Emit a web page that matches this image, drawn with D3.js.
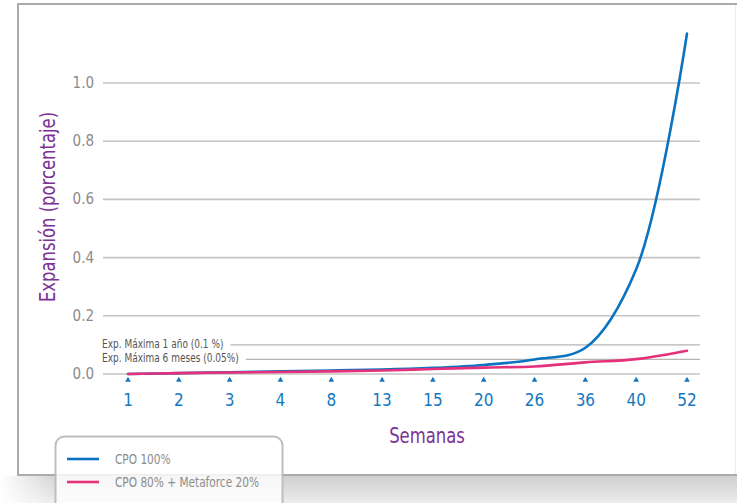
<!DOCTYPE html>
<html lang="es">
<head>
<meta charset="utf-8">
<style>
    body { margin: 0; background: #fff; }
    svg { display: block; }
    .cond { font-family: "DejaVu Sans Condensed", "Liberation Sans Narrow", Roboto, sans-serif; font-stretch: condensed; }
    .ytick { fill: #8a8a8a; font-size: 15px; }
    .xtick { fill: #1477bd; font-size: 17px; }
    .title { fill: #7b3294; font-size: 21px; }
    .ref { fill: #555; font-size: 11.5px; }
    .leg { fill: #8c8c8c; font-size: 13.5px; }
</style>
<script src="https://d3js.org/d3.v7.min.js"></script>
</head>
<body>
<svg width="737" height="503"></svg>
<script>
    // data
    var semanas = ["1", "2", "3", "4", "8", "13", "15", "20", "26", "36", "40", "52"];
    var cpo100 = [0.0, 0.003, 0.006, 0.009, 0.012, 0.015, 0.021, 0.031, 0.05, 0.09, 0.36, 1.17];
    var cpoMeta = [0.0, 0.003, 0.005, 0.007, 0.009, 0.012, 0.017, 0.022, 0.026, 0.04, 0.051, 0.08];
    var yTicks = [0, 0.2, 0.4, 0.6, 0.8, 1.0];
    var refValues = [0.1, 0.05];
    var refLabels = ["Exp. Máxima 1 año (0.1 %)", "Exp. Máxima 6 meses (0.05%)"];
    var seriesNames = ["CPO 100%", "CPO 80% + Metaforce 20%"];
    var colors = ["#0a73c1", "#e6307b"];

    var squeeze = 0.87; // the original font is condensed

    var svg = d3.select("svg");

    // text squeezed horizontally, anchored at (px, py)
    function condText(parent, px, py, cls, str, extra) {
        return parent.append("g")
            .attr("transform", "translate(" + px + "," + py + ")" + (extra || "") + " scale(" + squeeze + ",1)")
            .append("text")
            .attr("class", cls + " cond")
            .text(str);
    }

    // background: grey band below the card
    var defs = svg.append("defs");
    var grad = defs.append("linearGradient").attr("id", "bg").attr("x1", 0).attr("y1", 0).attr("x2", 0).attr("y2", 1);
    grad.append("stop").attr("offset", "0%").attr("stop-color", "#cfcfcf");
    grad.append("stop").attr("offset", "100%").attr("stop-color", "#ececec");
    var fade = defs.append("linearGradient").attr("id", "fade");
    fade.append("stop").attr("offset", "0%").attr("stop-color", "#fff").attr("stop-opacity", 1);
    fade.append("stop").attr("offset", "100%").attr("stop-color", "#fff").attr("stop-opacity", 0);

    svg.append("rect").attr("x", 0).attr("y", 476).attr("width", 737).attr("height", 27).attr("fill", "url(#bg)");
    svg.append("rect").attr("x", 0).attr("y", 476).attr("width", 60).attr("height", 27).attr("fill", "url(#fade)");

    // card
    svg.append("rect")
        .attr("x", 18).attr("y", 4).attr("width", 730).attr("height", 471)
        .attr("fill", "#fff").attr("stroke", "#ababab").attr("stroke-width", 2);
    svg.append("line").attr("x1", 735.5).attr("x2", 735.5).attr("y1", 5).attr("y2", 474)
        .attr("stroke", "#eee");

    var x = d3.scalePoint().domain(semanas).range([128, 687]);
    var y = d3.scaleLinear().domain([0, 1]).range([374, 83]);

    // grid + y labels
    var g = svg.append("g");
    g.selectAll(".grid").data(yTicks).enter().append("line")
        .attr("x1", 103).attr("x2", 700)
        .attr("y1", function(d) { return y(d); })
        .attr("y2", function(d) { return y(d); })
        .attr("stroke", "#c4c4c4").attr("stroke-width", 1.6);

    g.selectAll(".ytick").data(yTicks).enter().append("text")
        .attr("class", "ytick cond")
        .attr("x", 94)
        .attr("y", function(d) { return y(d) + 5; })
        .attr("text-anchor", "end")
        .text(function(d) { return d3.format(".1f")(d); });

    // reference lines with labels
    refValues.forEach(function(v, i) {
        var t = condText(g, 102, y(v) + 3, "ref", refLabels[i]);
        var w = t.node().getComputedTextLength() * squeeze;
        g.append("line")
            .attr("x1", 102 + w + 7).attr("x2", 700)
            .attr("y1", y(v)).attr("y2", y(v))
            .attr("stroke", "#b5b5b5").attr("stroke-width", 1.3);
    });

    // x ticks (little triangles) and labels
    var tri = d3.symbol().type(d3.symbolTriangle).size(14);
    g.selectAll(".tri").data(semanas).enter().append("path")
        .attr("d", tri)
        .attr("transform", function(d) { return "translate(" + x(d) + ",380)"; })
        .attr("fill", "#1477bd");

    g.selectAll(".xtick").data(semanas).enter().append("text")
        .attr("class", "xtick cond")
        .attr("x", function(d) { return x(d); })
        .attr("y", 406)
        .attr("text-anchor", "middle")
        .text(function(d) { return d; });

    // axis titles
    condText(svg, 427, 443, "title", "Semanas").attr("text-anchor", "middle");
    condText(svg, 55, 207, "title", "Expansión (porcentaje)", " rotate(-90)").attr("text-anchor", "middle");

    // lines
    var line = d3.line()
        .x(function(d, i) { return x(semanas[i]); })
        .y(function(d) { return y(d); })
        .curve(d3.curveCatmullRom.alpha(0.5));

    [cpo100, cpoMeta].forEach(function(s, i) {
        svg.append("path")
            .attr("d", line(s))
            .attr("fill", "none")
            .attr("stroke", colors[i])
            .attr("stroke-width", 2.6)
            .attr("stroke-linecap", "round");
    });

    // legend
    var leg = svg.append("g");
    leg.append("rect")
        .attr("x", 55.5).attr("y", 436.5).attr("width", 227).attr("height", 75)
        .attr("rx", 9)
        .attr("fill", "#fff").attr("fill-opacity", 0.82)
        .attr("stroke", "#bdbdbd").attr("stroke-width", 2);

    seriesNames.forEach(function(name, i) {
        var ly = 459 + i * 23;
        leg.append("line")
            .attr("x1", 67).attr("x2", 99)
            .attr("y1", ly).attr("y2", ly)
            .attr("stroke", colors[i]).attr("stroke-width", 2.6);
        condText(leg, 115, ly + 5, "leg", name);
    });
</script>
</body>
</html>
